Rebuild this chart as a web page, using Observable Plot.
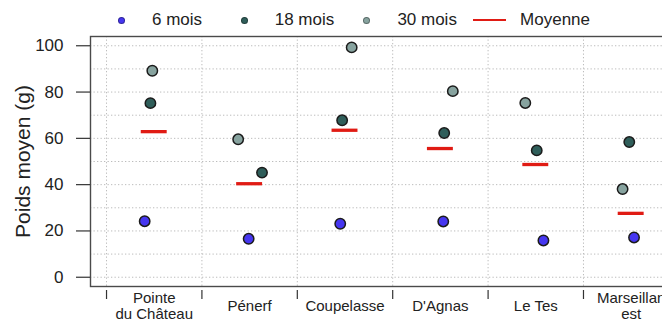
<!DOCTYPE html>
<html>
<head>
<meta charset="utf-8">
<script src="https://cdn.jsdelivr.net/npm/d3@7"></script>
<script src="https://cdn.jsdelivr.net/npm/@observablehq/plot@0.6"></script>
<style>
  html, body { margin: 0; padding: 0; background: #fff; overflow: hidden; }
  body { width: 662px; height: 320px; font-family: "Liberation Sans", Arial, Helvetica, sans-serif; color: #222; }
  #legend { box-sizing: border-box; height: 30px; padding: 10px 0 0 105px; display: flex; align-items: center; font-size: 17px; line-height: 20px; }
  #legend .item { display: flex; align-items: center; flex: none; width: 122.7px; }
  #legend .key { flex: none; width: 33px; height: 20px; margin-right: 14px; display: flex; align-items: center; justify-content: center; }
  #legend .dot { width: 7px; height: 7px; border-radius: 50%; box-sizing: border-box; border: 1px solid rgba(0,0,0,0.35); }
  #legend .line { width: 33px; height: 2px; }
  #chart svg { display: block; }
</style>
</head>
<body>
<div id="legend"></div>
<div id="chart"></div>
<script>
// Sites (x categories)
const sites = ["Pointe\ndu Château", "Pénerf", "Coupelasse", "D'Agnas", "Le Tes", "Marseillan\nest"];

// Mean weight (g) per site, by age class
const mois6  = [24.2, 16.6, 23.1, 24.1, 15.9, 17.2];
const mois18 = [75.2, 45.2, 67.8, 62.3, 54.8, 58.4];
const mois30 = [89.2, 59.6, 99.3, 80.4, 75.3, 38.1];
const moyenne = [62.9, 40.4, 63.5, 55.6, 48.7, 27.6];

// Horizontal jitter of each dot inside its site column (fraction of a column)
const jitter6  = [-0.10, -0.01, -0.05, 0.03, 0.08, 0.03];
const jitter18 = [-0.04, 0.13, -0.03, 0.04, 0.01, -0.02];
const jitter30 = [-0.02, -0.12, 0.07, 0.13, -0.11, -0.09];

const yTicks = [0, 20, 40, 60, 80, 100];
const yGrid = [0, 10, 20, 30, 40, 50, 60, 70, 80, 90, 100];

const series = [
  {label: "6 mois",  values: mois6,  jitter: jitter6,  fill: "#4636f0"},
  {label: "18 mois", values: mois18, jitter: jitter18, fill: "#2f5e5a"},
  {label: "30 mois", values: mois30, jitter: jitter30, fill: "#87a39f"}
];
const meanLabel = "Moyenne";
const meanColor = "#e01b14";

// Column boundaries between sites
const boundaries = d3.range(sites.length + 1).map(i => i - 0.5);

// Legend: one fixed-width slot per key
const legend = d3.select("#legend");
series.forEach(s => {
  const item = legend.append("div").attr("class", "item");
  item.append("div").attr("class", "key")
    .append("div").attr("class", "dot").style("background", s.fill);
  item.append("span").text(s.label);
});
const meanItem = legend.append("div").attr("class", "item");
meanItem.append("div").attr("class", "key")
  .append("div").attr("class", "line").style("background", meanColor);
meanItem.append("span").text(meanLabel);

const dotMarks = series.map(s =>
  Plot.dot(s.values, {
    x: (d, i) => i + s.jitter[i],
    y: d => d,
    r: 5.2,
    fill: s.fill,
    stroke: "#1b1b1b",
    strokeWidth: 1.5
  })
);

const chart = Plot.plot({
  width: 662,
  height: 290,
  marginTop: 6,
  marginBottom: 34,
  marginLeft: 90,
  marginRight: -32.4,
  style: {fontFamily: "'Liberation Sans', Arial, Helvetica, sans-serif", color: "#222", background: "transparent"},
  x: {type: "linear", domain: [-0.668, sites.length - 1 + 0.668]},
  y: {domain: [-4, 104]},
  marks: [
    Plot.gridY({ticks: yGrid, stroke: "#bcbcbc", strokeOpacity: 1, strokeDasharray: "1.3,2.2"}),
    Plot.gridX({ticks: boundaries, stroke: "#bcbcbc", strokeOpacity: 1, strokeDasharray: "1.3,2.2"}),
    Plot.frame({stroke: "#4a4a4a", strokeWidth: 1.4}),
    Plot.axisY({ticks: yTicks, tickSize: 14, tickPadding: 13, fontSize: 17, label: null, stroke: "#333", strokeWidth: 1.2}),
    Plot.axisX({ticks: boundaries, tickSize: 9, dy: 4, fill: "none", label: null, stroke: "#333", strokeWidth: 1.2}),
    Plot.text(sites, {x: (d, i) => i, text: d => d, frameAnchor: "bottom", dy: 19, lineAnchor: "middle", lineHeight: 1.07, fontSize: 15, fill: "#222"}),
    Plot.text(["Poids moyen (g)"], {text: d => d, frameAnchor: "left", textAnchor: "middle", rotate: -90, dx: -67, lineAnchor: "middle", fontSize: 21, fill: "#222"}),
    Plot.ruleY(moyenne, {y: d => d, x1: (d, i) => i - 0.136, x2: (d, i) => i + 0.136, stroke: meanColor, strokeWidth: 3.3}),
    ...dotMarks
  ]
});
document.getElementById("chart").append(chart);
</script>
</body>
</html>
